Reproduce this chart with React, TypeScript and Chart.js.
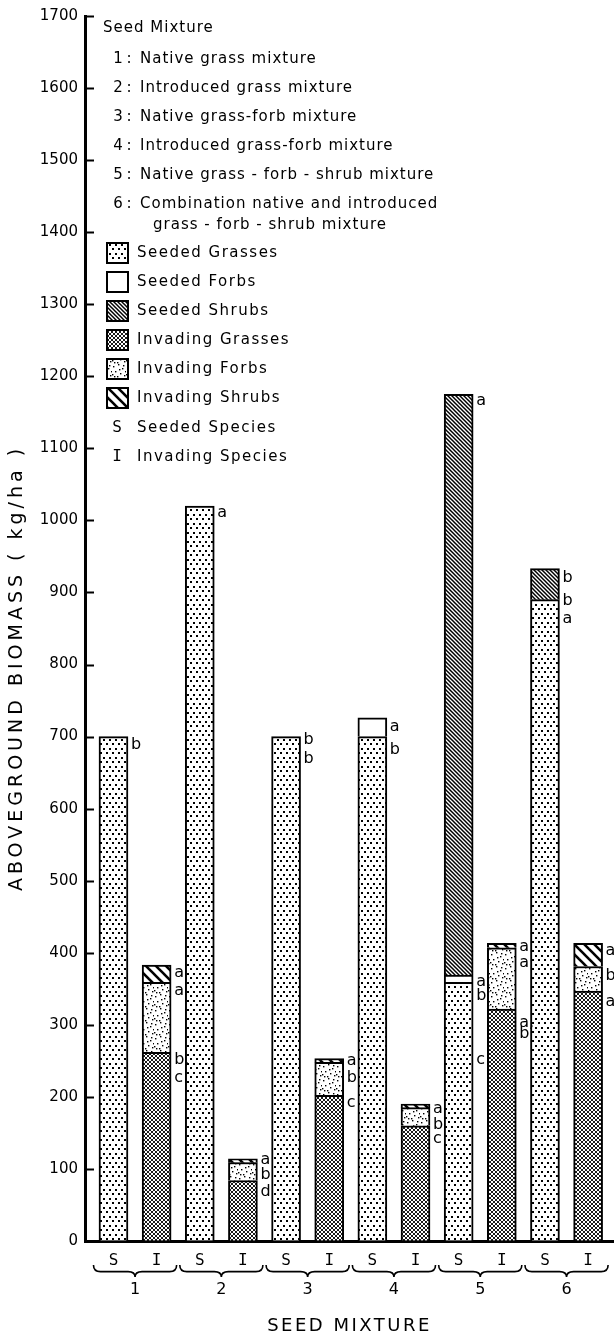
import React, { useEffect, useRef } from 'react';
import Chart from 'chart.js/auto';

// ---------- data ----------
const groups = ['1', '2', '3', '4', '5', '6'];
const barKinds = ['S', 'I'];
const seededGrasses = [700, 1020, 700, 700, 359, 890];
const seededForbs = [0, 0, 0, 26, 10, 0];
const seededShrubs = [0, 0, 0, 0, 806, 43];
const invadingGrasses = [262, 84, 202, 160, 322, 347];
const invadingForbs = [97, 25, 46, 25, 85, 34];
const invadingShrubs = [24, 5, 5, 5, 6, 32];
const yMax = 1700;
const yStep = 100;

const seriesLabels = [
  'Seeded Grasses',
  'Seeded Forbs',
  'Seeded Shrubs',
  'Invading Grasses',
  'Invading Forbs',
  'Invading Shrubs',
];
const mixtureNames = [
  'Native grass mixture',
  'Introduced grass mixture',
  'Native grass-forb mixture',
  'Introduced grass-forb mixture',
  'Native grass - forb - shrub mixture',
  'Combination native and introduced',
];
const mixtureNameCont = 'grass - forb - shrub mixture';
const speciesKeys = ['S', 'I'];
const speciesNames = ['Seeded Species', 'Invading Species'];

// significance letters per bar (S1, I1, S2, I2, ...) and the biomass level they sit at
const sigLetters: string[][] = [
  ['b'],
  ['a', 'a', 'b,', 'c'],
  ['a'],
  ['a', 'b', 'd'],
  ['b', 'b'],
  ['a', 'b', 'c'],
  ['a', 'b'],
  ['a', 'b', 'c'],
  ['a', 'a,', 'b', 'c'],
  ['a', 'a', 'a,', 'b'],
  ['b', 'b', 'a'],
  ['a', 'b', 'a'],
];
const sigAt: number[][] = [
  [688],
  [372, 347, 252, 227],
  [1010],
  [113, 92, 68],
  [695, 669],
  [250, 226, 192],
  [714, 682],
  [184, 161, 142],
  [1166, 360, 340, 252],
  [408, 386, 303, 287],
  [920, 888, 864],
  [403, 368, 332],
];

const FONT = '"DejaVu Sans", sans-serif';
const MONO = '"DejaVu Sans Mono", monospace';

function tile(w: number, h: number, draw: (c: CanvasRenderingContext2D) => void) {
  const cv = document.createElement('canvas');
  cv.width = w;
  cv.height = h;
  const c = cv.getContext('2d')!;
  c.fillStyle = '#fff';
  c.fillRect(0, 0, w, h);
  c.fillStyle = '#000';
  c.strokeStyle = '#000';
  draw(c);
  const p = document.createElement('canvas').getContext('2d')!.createPattern(cv, 'repeat');
  return p as CanvasPattern;
}

function diagLines(c: CanvasRenderingContext2D, s: number, lw: number) {
  c.lineWidth = lw;
  for (let k = -1; k <= 1; k++) {
    c.beginPath();
    c.moveTo(k * s - s, -s);
    c.lineTo(k * s + 2 * s, 2 * s);
    c.stroke();
  }
}

function makePatterns() {
  const seededGrass = tile(6, 9, (c) => {
    c.fillRect(1, 1, 2, 2);
    c.fillRect(4, 5, 2, 2);
  });
  const seededShrub = tile(4, 4, (c) => diagLines(c, 4, 1.5));
  const invGrass = tile(4, 4, (c) => {
    c.lineWidth = 0.9;
    c.beginPath();
    c.moveTo(0, 0); c.lineTo(4, 4);
    c.moveTo(4, 0); c.lineTo(0, 4);
    c.stroke();
  });
  const invForb = tile(14, 14, (c) => {
    const pts = [[1, 2], [6, 0], [10, 4], [3, 7], [8, 9], [12, 11], [5, 12], [0, 10], [11, 1], [7, 5], [2, 12], [13, 7]];
    pts.forEach(([x, y]) => c.fillRect(x, y, 1.4, 1.4));
  });
  const invShrub = tile(10, 10, (c) => diagLines(c, 10, 2.6));
  return [seededGrass, '#ffffff', seededShrub, invGrass, invForb, invShrub];
}

function letterText(c: CanvasRenderingContext2D, text: string, x: number, y: number, font: string, spacing: number, align: CanvasTextAlign = 'left') {
  c.font = font;
  (c as any).letterSpacing = spacing + 'px';
  c.textAlign = align;
  c.textBaseline = 'middle';
  c.fillText(text, x, y);
  (c as any).letterSpacing = '0px';
}

function brace(c: CanvasRenderingContext2D, x0: number, x1: number, y0: number, h: number) {
  const xm = (x0 + x1) / 2;
  const ym = y0 + h * 0.55;
  const r = 7;
  c.beginPath();
  c.moveTo(x0, y0);
  c.quadraticCurveTo(x0, ym, x0 + r, ym);
  c.lineTo(xm - r, ym);
  c.quadraticCurveTo(xm, ym, xm, y0 + h);
  c.quadraticCurveTo(xm, ym, xm + r, ym);
  c.lineTo(x1 - r, ym);
  c.quadraticCurveTo(x1, ym, x1, y0);
  c.stroke();
}

export default function App() {
  const ref = useRef<HTMLCanvasElement>(null);

  useEffect(() => {
    document.body.style.margin = '0';
    const canvas = ref.current!;
    const fills = makePatterns();
    const seriesValues = [seededGrasses, seededForbs, seededShrubs, invadingGrasses, invadingForbs, invadingShrubs];
    const tickLabels = groups.flatMap(() => barKinds);

    const datasets = seriesLabels.map((label, i) => ({
      label,
      data: seriesValues[i].map((v, g) => ({ x: 2 * g + (i < 3 ? 0 : 1), y: v > 0 ? v : null })),
      backgroundColor: fills[i] as any,
      borderColor: '#000',
      borderWidth: 2,
      barThickness: 29,
    }));

    const decor = {
      id: 'decor',
      afterDraw(chart: any) {
        const c: CanvasRenderingContext2D = chart.ctx;
        const xs = chart.scales.x;
        const ys = chart.scales.y;
        const area = chart.chartArea;
        c.save();
        c.fillStyle = '#000';
        c.strokeStyle = '#000';

        // inward tick marks
        c.lineWidth = 2;
        for (let v = yStep; v <= yMax; v += yStep) {
          const y = Math.round(ys.getPixelForValue(v)) + 0.5;
          c.beginPath();
          c.moveTo(area.left, y);
          c.lineTo(area.left + 9, y);
          c.stroke();
        }

        // significance letters
        sigLetters.forEach((letters, b) => {
          const x = xs.getPixelForValue(b) + 14.5 + 3;
          letters.forEach((t, k) => {
            letterText(c, t, x, ys.getPixelForValue(sigAt[b][k]), `16px ${FONT}`, 0);
          });
        });

        // braces and group numbers
        c.lineWidth = 1.6;
        groups.forEach((g, i) => {
          const xS = xs.getPixelForValue(2 * i);
          const xI = xs.getPixelForValue(2 * i + 1);
          brace(c, xS - 20, xI + 20, 1265, 12);
          letterText(c, g, (xS + xI) / 2, 1290, `16px ${FONT}`, 0, 'center');
        });

        // x title
        letterText(c, 'SEED MIXTURE', (area.left + area.right) / 2, 1326, `18px ${FONT}`, 2.5, 'center');

        // y title
        c.save();
        c.translate(17, 668);
        c.rotate(-Math.PI / 2);
        letterText(c, 'ABOVEGROUND BIOMASS ( kg/ha )', 0, 0, `19px ${FONT}`, 4, 'center');
        c.restore();

        // legend block
        letterText(c, 'Seed Mixture', 103, 28, `15px ${FONT}`, 1);
        mixtureNames.forEach((name, i) => {
          const y = 59 + i * 29;
          letterText(c, groups[i], 118, y, `15px ${FONT}`, 0, 'center');
          letterText(c, ':', 129, y, `15px ${FONT}`, 0, 'center');
          letterText(c, name, 140, y, `15px ${FONT}`, 1);
        });
        letterText(c, mixtureNameCont, 153, 225, `15px ${FONT}`, 1);

        seriesLabels.forEach((label, i) => {
          const y = 253 + i * 29;
          c.fillStyle = fills[i] as any;
          c.fillRect(107, y - 10, 21, 20);
          c.lineWidth = 2;
          c.strokeRect(107, y - 10, 21, 20);
          c.fillStyle = '#000';
          letterText(c, label, 137, y, `15px ${FONT}`, 1.5);
        });
        speciesKeys.forEach((k, i) => {
          const y = 428 + i * 29;
          letterText(c, k, 117, y, `16px ${MONO}`, 0, 'center');
          letterText(c, speciesNames[i], 137, y, `15px ${FONT}`, 1.5);
        });
        c.restore();
      },
    };

    const chart = new Chart(canvas, {
      type: 'bar',
      data: { datasets: datasets as any },
      options: {
        animation: false,
        responsive: false,
        maintainAspectRatio: false,
        layout: { padding: { top: 15, left: 0, right: 0, bottom: 0 } },
        plugins: {
          legend: { display: false },
          tooltip: { enabled: false },
        },
        scales: {
          x: {
            type: 'linear',
            min: -0.66,
            max: 11.6,
            offset: false,
            stacked: true,
            grid: { display: true, drawOnChartArea: false, drawTicks: false, offset: false },
            border: { display: true, width: 3, color: '#000' },
            afterBuildTicks: (s: any) => {
              s.ticks = tickLabels.map((_, i) => ({ value: i }));
            },
            afterFit: (s: any) => {
              s.height = 97;
            },
            ticks: {
              autoSkip: false,
              maxRotation: 0,
              padding: 10,
              color: '#000',
              font: { family: MONO, size: 16 },
              callback: (_v: any, i: number) => tickLabels[i],
            },
          },
          y: {
            min: 0,
            max: yMax,
            stacked: true,
            grid: { display: true, drawOnChartArea: false, drawTicks: false },
            border: { display: true, width: 3, color: '#000' },
            ticks: {
              stepSize: yStep,
              color: '#000',
              padding: 7,
              font: { family: FONT, size: 15 },
              callback: (v: any) => String(v),
            },
            afterFit: (s: any) => {
              s.width = 85;
            },
          },
        },
      } as any,
      plugins: [decor],
    });
    return () => chart.destroy();
  }, []);

  return (
    <div style={{ position: 'absolute', left: 0, top: 0, width: 614, height: 1338 }}>
      <canvas ref={ref} width={614} height={1338} style={{ display: 'block' }} />
    </div>
  );
}
